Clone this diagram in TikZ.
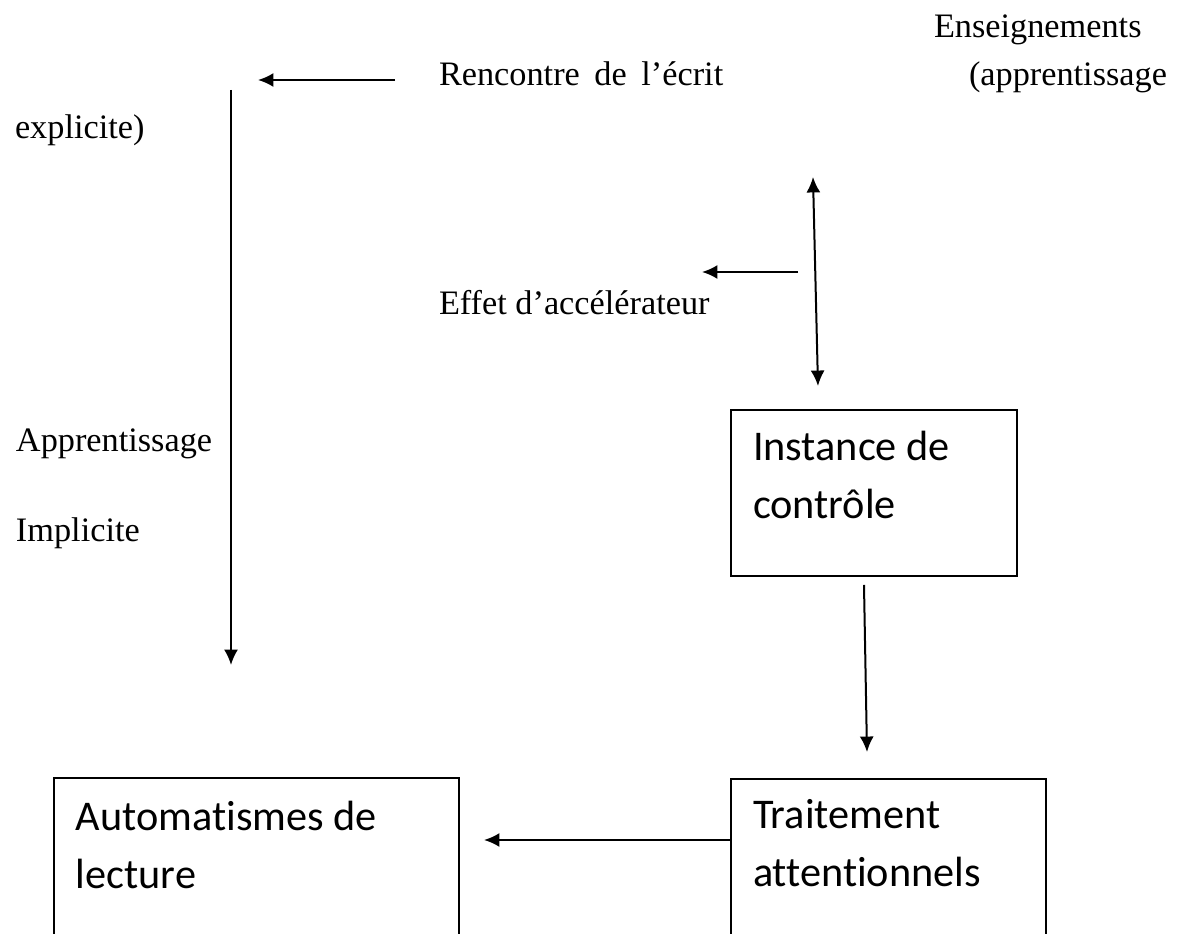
\documentclass[tikz,border=0pt]{standalone}
\usepackage{fontspec}
\setmainfont{Liberation Serif}
\newfontfamily\calibri[Ligatures=NoCommon]{Carlito}
\usetikzlibrary{arrows.meta}
\usetikzlibrary{positioning}

\begin{document}
\begin{tikzpicture}[x=0.35pt, y=-0.35pt,
                    >={Latex[length=5.4pt,width=4.9pt]},
                    line width=0.7pt,
                    txt/.style={anchor=base west, inner sep=0pt, font=\fontsize{12pt}{14pt}\selectfont},
                    blk/.style={draw, anchor=north west, inner xsep=7.7pt, inner ysep=0pt, align=flush left,
                                font=\calibri\fontsize{14.8pt}{20.3pt}\selectfont}
                    %blk2/.style={rectangle, draw, minimum width=3cm}
                    ]
  \useasboundingbox (0,0) rectangle (1179,934);
  % labels
  \node[txt] (ens)   at (933,38)  {Enseignements};
  \node[txt] (appr)  at (968,86)  {(apprentissage};
  \node[txt] (expl)  at (14,139)  {explicite)};
  \node[txt] (renc)  at (438,86)  {\spaceskip=5.1pt Rencontre de l'écrit};
  \node[txt] (effet) at (438,315) {Effet d'accélérateur};
  \node[txt] (appi)  at (15,452)  {Apprentissage};
  \node[txt] (impl)  at (15,542)  {Implicite};
  % boxes
  \node[blk, text width=84.7pt, text height=17.85pt, text depth=40.25pt] (inst) at (730,409) {Instance de\\contrôle};
  \node[blk, text width=94.85pt, text height=17.5pt, text depth=42.7pt] (trait) at (730,778) {Traitement\\attentionnels};
  \node[blk, text width=126.35pt, text height=18.55pt, text depth=42pt] (auto) at (53,777) {Automatismes de\\lecture};
  % arrow ends
  \coordinate (r1) at (395,80);
  \coordinate (r2) at (258,80);
  \coordinate (v1) at (231,90);
  \coordinate (v2) at (231,665);
  \coordinate (e1) at (798,272);
  \coordinate (e2) at (702,272);
  \coordinate (d1) at (813,177);
  \coordinate (d2) at (818,386);
  \coordinate (c1) at (864,585);
  \coordinate (c2) at (867,752);
  \coordinate (a2) at (484,840);
  \draw [->] (r1) -- (r2);
  \draw [->] (v1) -- (v2);
  \draw [->] (e1) -- (e2);
  \draw [<->] (d1) -- (d2);
  \draw [->] (c1) -- (c2);
  \draw [->] (trait.west |- a2) -- (a2);
\end{tikzpicture}
\end{document}
